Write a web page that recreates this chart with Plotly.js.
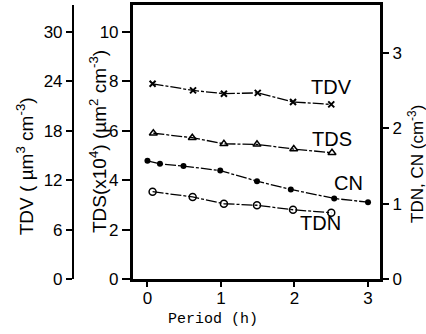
<!DOCTYPE html>
<html>
<head>
<meta charset="utf-8">
<script src="https://cdn.plot.ly/plotly-3.0.1.min.js"></script>
<style>html,body{margin:0;padding:0;background:#fff;}#chart{width:426px;height:334px;}</style>
</head>
<body>
<div id="chart"></div>
<script>
// Data
const tdvX = [0.07, 0.62, 1.04, 1.50, 1.98, 2.50];
const tdv  = [23.7, 22.9, 22.5, 22.6, 21.5, 21.2];      // µm^3 cm^-3
const tdsX = [0.08, 0.61, 1.04, 1.49, 1.99, 2.51];
const tds  = [5.90, 5.72, 5.47, 5.45, 5.26, 5.11];      // x10^4 µm^2 cm^-3
const cnX  = [0.0, 0.17, 0.49, 0.99, 1.49, 1.95, 2.54, 3.0];
const cn   = [1.57, 1.53, 1.50, 1.44, 1.30, 1.19, 1.07, 1.02]; // cm^-3
const tdnX = [0.07, 0.615, 1.04, 1.49, 1.98, 2.50];
const tdn  = [1.16, 1.09, 1.00, 0.98, 0.92, 0.88];      // cm^-3

const xTicks = [0, 1, 2, 3];
const tdsTicks = [0, 2, 4, 6, 8, 10];
const tdvTicks = [0, 6, 12, 18, 24, 30];
const tdnTicks = [0, 1, 2, 3];

const seriesLabels = [
  {text: 'TDV', x: 2.51, y: 7.77},
  {text: 'TDS', x: 2.51, y: 5.67},
  {text: 'CN',  x: 2.74, y: 3.89},
  {text: 'TDN', x: 2.35, y: 2.27}
];

const dashStyle = '11px,2px,3px,2px';
const lineStyle = {color: '#000', width: 1.3, dash: dashStyle};

const traces = [
  {x: tdvX, y: tdv, yaxis: 'y3', mode: 'lines+markers', line: lineStyle,
   marker: {symbol: 'x-thin-open', size: 6, color: '#000', line: {width: 2, color: '#000'}}},
  {x: tdsX, y: tds, yaxis: 'y', mode: 'lines+markers', line: lineStyle,
   marker: {symbol: 'triangle-up-open', size: 7, color: '#000', line: {width: 1.5, color: '#000'}}},
  {x: cnX, y: cn, yaxis: 'y2', mode: 'lines+markers', line: lineStyle,
   marker: {symbol: 'circle', size: 6, color: '#000'}},
  {x: tdnX, y: tdn, yaxis: 'y2', mode: 'lines+markers', line: lineStyle,
   marker: {symbol: 'circle-open', size: 7, color: '#000', line: {width: 1.5, color: '#000'}}}
];

const tickFont = {family: 'Liberation Sans, Arial, sans-serif', size: 17, color: '#000'};
const titleFont = {family: 'Liberation Sans Narrow, Liberation Sans, Arial, sans-serif', size: 19, color: '#000'};

const annotations = seriesLabels.map(l => ({
  text: l.text, x: l.x, y: l.y, xref: 'x', yref: 'y', showarrow: false,
  xanchor: 'center', yanchor: 'middle',
  font: {family: 'Liberation Sans Narrow, Liberation Sans, Arial, sans-serif', size: 20, color: '#000'}
}));
annotations.push(
  {text: 'TDV ( µm<sup>3</sup> cm<sup>-3</sup>)', xref: 'paper', yref: 'paper', x: -0.109, y: 0.412,
   xanchor: 'center', yanchor: 'middle', textangle: -90, showarrow: false, font: titleFont},
  {text: 'TDS(x10<sup>4</sup>) (µm<sup>2</sup> cm<sup>-3</sup>)', xref: 'paper', yref: 'paper', x: 0.119, y: 0.5,
   xanchor: 'center', yanchor: 'middle', textangle: -90, showarrow: false, font: titleFont},
  {text: 'TDN, CN (cm<sup>-3</sup>)', xref: 'paper', yref: 'paper', x: 1.1125, y: 0.42,
   xanchor: 'center', yanchor: 'middle', textangle: -90, showarrow: false,
   font: {family: 'Liberation Sans Narrow, Liberation Sans, Arial, sans-serif', size: 17, color: '#000'}},
  {text: 'Period (h)', xref: 'paper', yref: 'paper', x: 0.478, y: -0.146,
   xanchor: 'center', yanchor: 'middle', showarrow: false,
   font: {family: 'Liberation Mono, Courier New, monospace', size: 15, color: '#000'}}
);

const layout = {
  width: 426, height: 334,
  margin: {l: 60, r: 46, t: 5, b: 55, pad: 0},
  paper_bgcolor: '#fff', plot_bgcolor: '#fff',
  showlegend: false,
  xaxis: {domain: [0.228, 1], range: [-0.197, 3.163], tickvals: xTicks, ticks: 'outside',
          ticklen: 5, tickwidth: 2, tickcolor: '#000', showgrid: false, zeroline: false,
          showline: true, linewidth: 3, linecolor: '#000', mirror: true, tickfont: tickFont,
          ticklabelstandoff: -3},
  yaxis: {range: [0, 11.09], tickvals: tdsTicks, ticks: 'outside', ticklen: 8, tickwidth: 2,
          tickcolor: '#000', showgrid: false, zeroline: false, showline: true, linewidth: 3,
          linecolor: '#000', mirror: true, tickfont: tickFont},
  yaxis2: {range: [0, 3.64], tickvals: tdnTicks, overlaying: 'y', side: 'right', anchor: 'x',
           ticks: 'outside', ticklen: 6, tickwidth: 2, tickcolor: '#000', showgrid: false,
           zeroline: false, showline: true, linewidth: 3, linecolor: '#000', tickfont: tickFont},
  yaxis3: {range: [0, 33.27], tickvals: tdvTicks, overlaying: 'y', side: 'left', anchor: 'free',
           position: 0.0406, ticks: 'outside', ticklen: 6, tickwidth: 2, tickcolor: '#000',
           showgrid: false, zeroline: false, showline: true, linewidth: 2.5, linecolor: '#000',
           tickfont: tickFont},
  annotations: annotations
};

Plotly.newPlot('chart', traces, layout, {staticPlot: true, displayModeBar: false});
</script>
</body>
</html>
